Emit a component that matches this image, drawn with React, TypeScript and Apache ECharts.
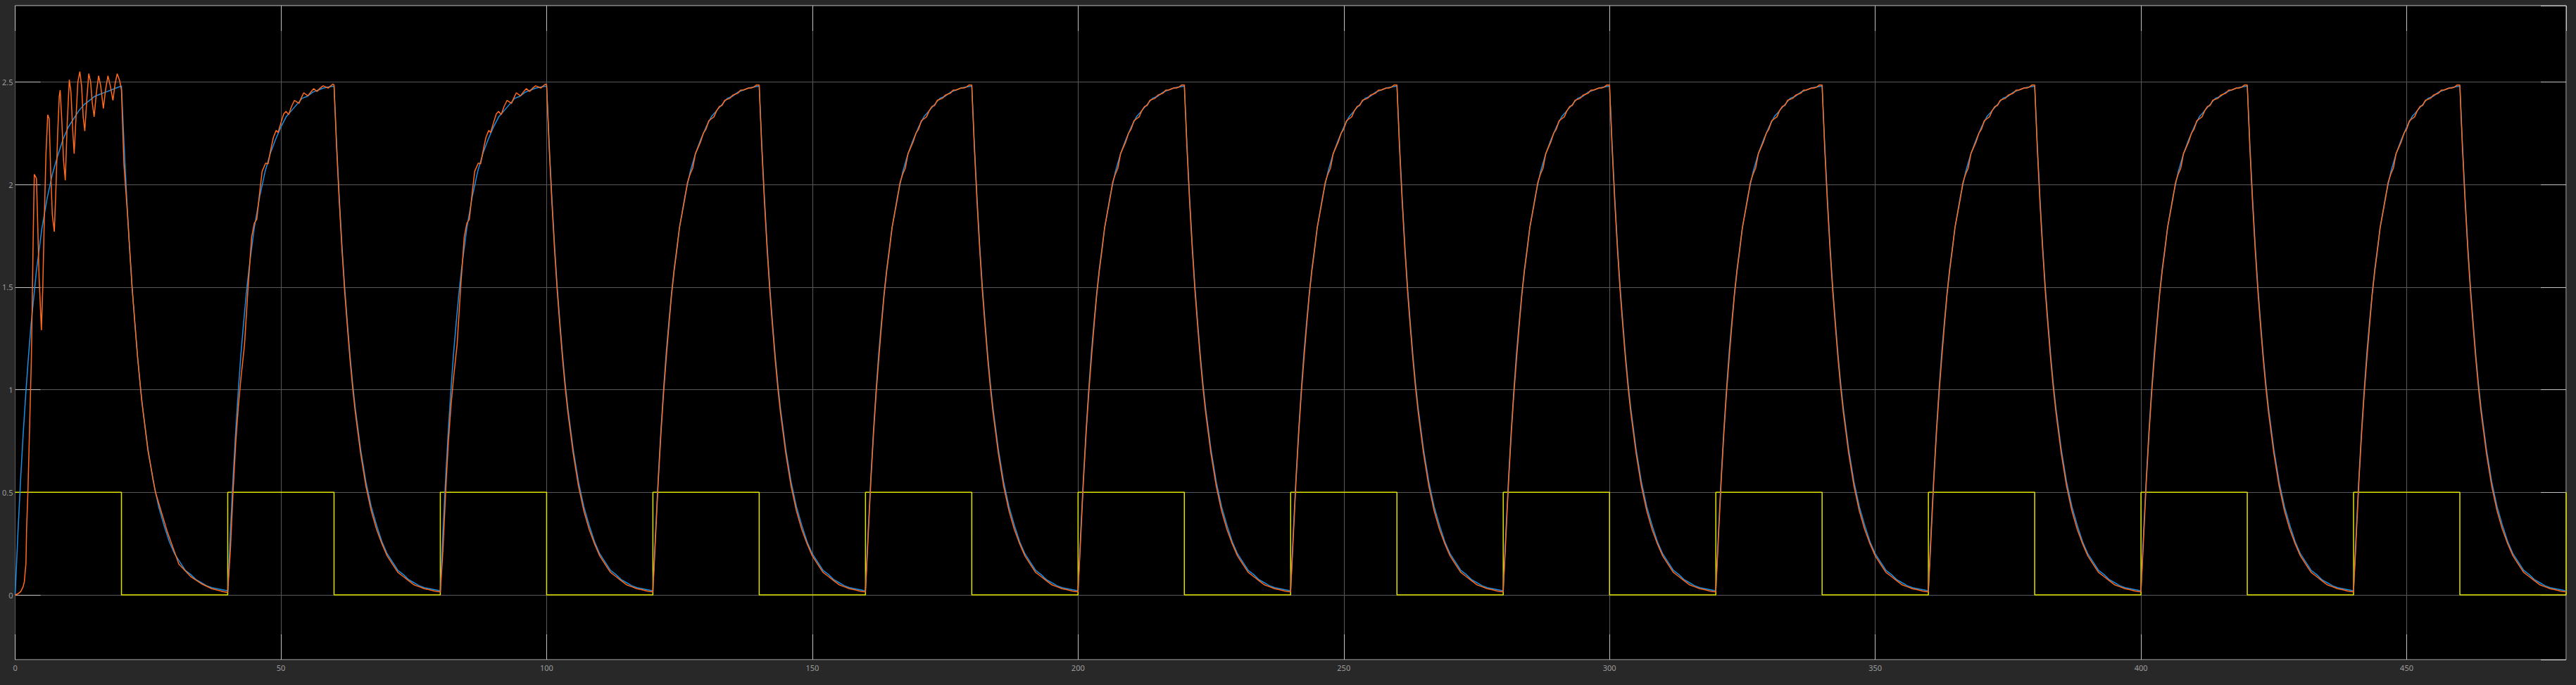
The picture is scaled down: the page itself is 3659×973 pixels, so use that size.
import React, { useEffect, useRef } from "react";
import * as echarts from "echarts";

// ---- data ----
const xTicksMax = 480;
const cycleStarts = [0, 40, 80, 120, 160, 200, 240, 280, 320, 360, 400, 440];

// input square wave: [time, value] switch points (drawn as steps)
const inputTimes = [0, 20, 40, 60, 80, 100, 120, 140, 160, 180, 200, 220, 240, 260, 280, 300, 320, 340, 360, 380, 400, 420, 440, 460, 480];
const inputValues = [0.5, 0, 0.5, 0, 0.5, 0, 0.5, 0, 0.5, 0, 0.5, 0, 0.5, 0, 0.5, 0, 0.5, 0, 0.5, 0, 0.5, 0, 0.5, 0, 0.5];

// blue response, first rise (offset, value)
const blueRiseFirst = [
  [0, 0], [0.5, 0.29], [1, 0.55], [1.5, 0.78], [2, 0.98], [2.5, 1.16], [3, 1.32], [3.5, 1.45], [4, 1.58],
  [5, 1.78], [6, 1.93], [7, 2.05], [8, 2.14], [9, 2.22], [10, 2.28], [11, 2.32], [12, 2.36], [13, 2.39],
  [14, 2.41], [15, 2.43], [16, 2.44], [17, 2.45], [18, 2.46], [19, 2.47], [20, 2.48],
];
// blue response, later rises
const blueRise = [
  [0, 0.02], [0.5, 0.31], [1, 0.57], [1.5, 0.8], [2, 1.0], [2.5, 1.18], [3, 1.33], [3.5, 1.47], [4, 1.59],
  [5, 1.79], [6, 1.94], [7, 2.06], [8, 2.15], [9, 2.22], [10, 2.28], [11, 2.33], [12, 2.36], [13, 2.39],
  [14, 2.42], [15, 2.43], [16, 2.45], [17, 2.46], [18, 2.47], [19, 2.475], [20, 2.48],
];
// blue response, decays (offset from the falling edge)
const blueDecay = [
  [0, 2.48], [0.5, 2.19], [1, 1.93], [1.5, 1.7], [2, 1.5], [2.5, 1.33], [3, 1.17], [3.5, 1.03], [4, 0.91],
  [5, 0.71], [6, 0.55], [7, 0.43], [8, 0.34], [9, 0.26], [10, 0.2], [11, 0.16], [12, 0.12], [13, 0.1],
  [14, 0.075], [15, 0.06], [16, 0.045], [17, 0.035], [18, 0.03], [19, 0.025], [20, 0.02],
];

// orange response, first full cycle (time, value)
const orangeFirstCycle = [
  [0, 0], [0.5, 0.005], [1.06, 0.017], [1.5, 0.04], [1.72, 0.063], [2.03, 0.154], [2.16, 0.33], [2.4, 0.5],
  [2.6, 0.7], [2.8, 0.9], [3.04, 1.14], [3.2, 1.4], [3.4, 1.75], [3.6, 2.05], [4.0, 2.03], [4.2, 1.85],
  [4.5, 1.55], [4.94, 1.29], [5.2, 1.5], [5.5, 1.85], [5.8, 2.15], [6.13, 2.34], [6.4, 2.32], [6.7, 2.05],
  [7.0, 1.85], [7.37, 1.77], [7.7, 2.0], [8.0, 2.25], [8.3, 2.43], [8.47, 2.46], [8.8, 2.3], [9.1, 2.12],
  [9.43, 2.02], [9.8, 2.3], [10.19, 2.51], [10.5, 2.45], [10.8, 2.28], [11.1, 2.15], [11.5, 2.35],
  [11.8, 2.5], [12.17, 2.55], [12.5, 2.48], [12.8, 2.33], [13.1, 2.26], [13.5, 2.42], [13.85, 2.54],
  [14.2, 2.5], [14.5, 2.4], [14.86, 2.33], [15.3, 2.45], [15.7, 2.53], [16.1, 2.48], [16.6, 2.37],
  [17.0, 2.46], [17.46, 2.53], [17.9, 2.48], [18.4, 2.41], [18.8, 2.49], [19.2, 2.54], [19.67, 2.505],
  [20.0, 2.46], [20.46, 2.1], [21.1, 1.87], [22.0, 1.5], [23.0, 1.17], [23.8, 0.95], [25, 0.7],
  [26.4, 0.5], [28.6, 0.31], [30.8, 0.15], [33, 0.09], [35, 0.055], [37, 0.03], [39.8, 0.012],
];
// orange rises with visible ripple (cycles 2-3)
const orangeRiseEarly = [
  [0, 0.015], [0.5, 0.22], [1, 0.5], [1.5, 0.74], [2, 0.92], [2.5, 1.06], [3.16, 1.22], [3.83, 1.5],
  [4.5, 1.744], [5.0, 1.812], [5.46, 1.83], [6.0, 1.96], [6.47, 2.064], [7.13, 2.104], [7.58, 2.1],
  [8.1, 2.17], [8.59, 2.23], [9.12, 2.264], [9.47, 2.253], [10.0, 2.3], [10.53, 2.344], [10.97, 2.356],
  [11.46, 2.341], [12.0, 2.38], [12.56, 2.41], [13.4, 2.395], [13.8, 2.42], [14.3, 2.447], [15.07, 2.432],
  [15.6, 2.45], [16.17, 2.467], [16.8, 2.453], [17.4, 2.47], [17.94, 2.481], [18.9, 2.47], [19.8, 2.49],
  [20, 2.485],
];
// orange rises with small ripple (later cycles)
const orangeRiseLate = [
  [0, 0.02], [0.5, 0.28], [1, 0.55], [1.5, 0.78], [2, 0.98], [2.5, 1.15], [3, 1.31], [3.5, 1.46], [4, 1.58],
  [4.5, 1.68], [5, 1.79], [5.5, 1.86], [6, 1.93], [6.5, 2.01], [7, 2.05], [7.5, 2.08], [8, 2.15], [8.5, 2.18],
  [9, 2.21], [9.5, 2.25], [10, 2.27], [10.5, 2.31], [11, 2.32], [11.5, 2.33], [12, 2.36], [12.5, 2.38],
  [13, 2.385], [13.5, 2.41], [14, 2.415], [14.5, 2.42], [15, 2.435], [15.5, 2.44], [16, 2.445], [16.5, 2.46],
  [17, 2.46], [17.5, 2.465], [18, 2.47], [18.5, 2.47], [19, 2.475], [19.5, 2.485], [20, 2.485],
];
// orange decays (offset from the falling edge)
const orangeDecay = [
  [0, 2.485], [0.5, 2.17], [1, 1.91], [1.5, 1.68], [2, 1.48], [2.5, 1.31], [3, 1.15], [3.5, 1.01], [4, 0.89],
  [5, 0.69], [6, 0.53], [7, 0.41], [8, 0.32], [9, 0.25], [10, 0.19], [11, 0.15], [12, 0.11], [13, 0.09],
  [14, 0.07], [15, 0.05], [16, 0.04], [17, 0.03], [18, 0.025], [19, 0.018], [20, 0.015],
];

const yMin = -0.3156;
const yMax = 2.8716;

function buildBlue() {
  const out: number[][] = [];
  cycleStarts.forEach((c, k) => {
    const rise = k === 0 ? blueRiseFirst : blueRise;
    rise.forEach(([o, v]) => out.push([c + o, v]));
    blueDecay.slice(1).forEach(([o, v]) => out.push([c + 20 + o, v]));
  });
  return out;
}

function buildOrange() {
  const out: number[][] = [];
  cycleStarts.forEach((c, k) => {
    if (k === 0) {
      orangeFirstCycle.forEach(([t, v]) => out.push([t, v]));
      return;
    }
    const rise = k <= 2 ? orangeRiseEarly : orangeRiseLate;
    rise.forEach(([o, v]) => out.push([c + o, v]));
    orangeDecay.slice(1).forEach(([o, v]) => out.push([c + 20 + o, v]));
  });
  return out;
}

function buildInput() {
  return inputTimes.map((t, i) => [t, inputValues[i]]);
}

export default function App() {
  const ref = useRef<HTMLDivElement>(null);
  useEffect(() => {
    if (!ref.current) return;
    const chart = echarts.init(ref.current, null, { renderer: "svg" });
    const tickStyle = { color: "#c4c4c4", width: 1 };
    const labelStyle = { color: "#9c9c9c", fontSize: 11, fontFamily: "Noto Sans" };
    const hiddenLine = { show: false, onZero: false };
    chart.setOption({
      animation: false,
      backgroundColor: "#282828",
      grid: {
        left: 17,
        right: 14,
        top: 8,
        bottom: 36,
        show: true,
        backgroundColor: "#000000",
        borderColor: "#c8c8c8",
        borderWidth: 1,
      },
      xAxis: [
        {
          type: "value",
          min: 0,
          max: xTicksMax,
          interval: 50,
          position: "bottom",
          axisLine: hiddenLine,
          axisTick: { show: true, inside: true, length: 36, lineStyle: tickStyle },
          axisLabel: { ...labelStyle, margin: 6, showMaxLabel: false },
          splitLine: { show: true, lineStyle: { color: "#585858", width: 1 } },
        },
        {
          type: "value",
          min: 0,
          max: xTicksMax,
          interval: 50,
          position: "top",
          axisLine: hiddenLine,
          axisTick: { show: true, inside: true, length: 36, lineStyle: tickStyle },
          axisLabel: { show: false },
          splitLine: { show: false },
        },
      ],
      yAxis: [
        {
          type: "value",
          min: yMin,
          max: yMax,
          splitNumber: 6,
          position: "left",
          axisLine: hiddenLine,
          axisTick: { show: true, inside: true, length: 36, lineStyle: tickStyle },
          axisLabel: { ...labelStyle, margin: 3, showMinLabel: false, showMaxLabel: false },
          splitLine: { show: true, lineStyle: { color: "#585858", width: 1 } },
        },
        {
          type: "value",
          min: yMin,
          max: yMax,
          splitNumber: 6,
          position: "right",
          axisLine: hiddenLine,
          axisTick: { show: true, inside: true, length: 36, lineStyle: tickStyle },
          axisLabel: { show: false },
          splitLine: { show: false },
        },
      ],
      series: [
        {
          name: "input",
          type: "line",
          step: "end",
          data: buildInput(),
          showSymbol: false,
          lineStyle: { color: "#e2e200", width: 1.5 },
          itemStyle: { color: "#e2e200" },
          z: 2,
        },
        {
          name: "model",
          type: "line",
          data: buildBlue(),
          showSymbol: false,
          lineStyle: { color: "#1c8fe3", width: 1.5 },
          itemStyle: { color: "#1c8fe3" },
          z: 3,
        },
        {
          name: "output",
          type: "line",
          data: buildOrange(),
          showSymbol: false,
          lineStyle: { color: "#ff6a1c", width: 1.5 },
          itemStyle: { color: "#ff6a1c" },
          z: 4,
        },
      ],
    });
    return () => chart.dispose();
  }, []);
  return (
    <div style={{ position: "fixed", left: 0, top: 0, width: 3659, height: 973, background: "#282828" }}>
      <div ref={ref} style={{ width: 3659, height: 973 }} />
    </div>
  );
}
